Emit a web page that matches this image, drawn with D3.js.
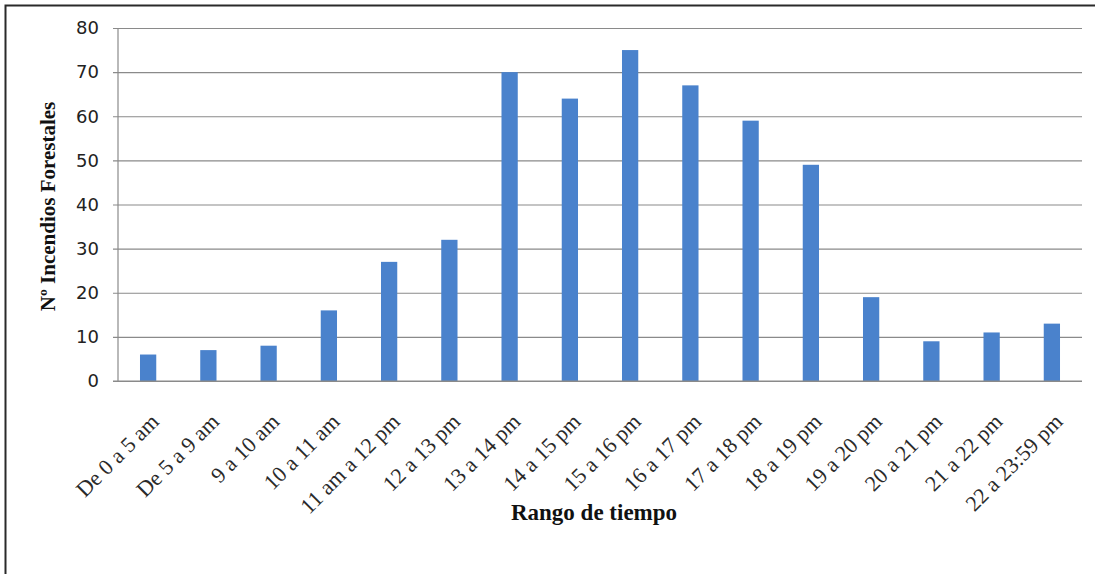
<!DOCTYPE html>
<html>
<head>
<meta charset="utf-8">
<script src="https://cdn.jsdelivr.net/npm/d3@7"></script>
<style>
  html, body { margin: 0; padding: 0; background: #fff; }
  svg { display: block; }
</style>
</head>
<body>
<script>
// Forest fires by time-of-day range
const categories = [
  "De 0 a 5 am", "De 5 a 9 am", "9 a 10 am", "10 a 11 am", "11 am a 12 pm",
  "12 a 13 pm", "13 a 14 pm", "14 a 15 pm", "15 a 16 pm", "16 a 17 pm",
  "17 a 18 pm", "18 a 19 pm", "19 a 20 pm", "20 a 21 pm", "21 a 22 pm",
  "22 a 23:59 pm"
];
const incendios = [6, 7, 8, 16, 27, 32, 70, 64, 75, 67, 59, 49, 19, 9, 11, 13];
const yTicks = [0, 10, 20, 30, 40, 50, 60, 70, 80];
const yTitle = "Nº Incendios Forestales";
const xTitle = "Rango de tiempo";

const W = 1095, H = 574;
const plot = { left: 118, right: 1082, top: 28, bottom: 381 };

const svg = d3.select("body").append("svg")
  .attr("width", W).attr("height", H);

// outer frame
svg.append("rect")
  .attr("x", 5.5).attr("y", 5.5)
  .attr("width", W).attr("height", H)
  .attr("fill", "#fff")
  .attr("stroke", "#2a2a2a").attr("stroke-width", 2);

const x = d3.scaleBand().domain(categories)
  .range([plot.left, plot.right]).paddingInner(0.73).paddingOuter(0.365);
const y = d3.scaleLinear().domain([0, 80]).range([plot.bottom, plot.top]);

// gridlines + y labels
const yAxis = d3.axisLeft(y).tickValues(yTicks).tickSize(-(plot.right - plot.left) - 5)
  .tickSizeOuter(0).tickPadding(14);
const gy = svg.append("g").attr("transform", `translate(${plot.left - 5},0)`).call(yAxis);
gy.select(".domain").remove();
gy.selectAll(".tick line").attr("stroke", "#8a8a8a").attr("stroke-width", 1.2)
  .attr("x1", 0).attr("x2", plot.right - plot.left + 5);
gy.selectAll(".tick text")
  .attr("x", -(plot.left - 5 - 99) ).attr("dx", 0)
  .attr("font-family", "'DejaVu Sans', Verdana, sans-serif")
  .attr("font-size", 18).attr("fill", "#222");

// vertical axis line
svg.append("line")
  .attr("x1", plot.left).attr("x2", plot.left)
  .attr("y1", plot.top).attr("y2", plot.bottom)
  .attr("stroke", "#8a8a8a").attr("stroke-width", 1.2);

// bars
svg.append("g").selectAll("rect").data(incendios).join("rect")
  .attr("x", (d, i) => x(categories[i]))
  .attr("width", x.bandwidth())
  .attr("y", d => y(d))
  .attr("height", d => y(0) - y(d))
  .attr("fill", "#4a82cc");

// baseline over bars
svg.append("line")
  .attr("x1", plot.left - 5).attr("x2", plot.right)
  .attr("y1", y(0)).attr("y2", y(0))
  .attr("stroke", "#8a8a8a").attr("stroke-width", 1.2);

// category labels, rotated
svg.append("g").selectAll("text").data(categories).join("text")
  .attr("transform", d => `translate(${x(d) + x.bandwidth() / 2 + 12},${plot.bottom + 42}) rotate(-45)`)
  .attr("text-anchor", "end")
  .attr("font-family", "'Liberation Serif', 'Times New Roman', serif")
  .attr("font-size", 22).attr("fill", "#2a2a2a")
  .text(d => d);

// axis titles
svg.append("text")
  .attr("transform", `translate(55,${(plot.top + plot.bottom) / 2 + 2}) rotate(-90)`)
  .attr("text-anchor", "middle")
  .attr("font-family", "'Liberation Serif', 'Times New Roman', serif")
  .attr("font-weight", "bold").attr("font-size", 21).attr("fill", "#111")
  .text(yTitle);

svg.append("text")
  .attr("x", 594).attr("y", 520)
  .attr("text-anchor", "middle")
  .attr("font-family", "'Liberation Serif', 'Times New Roman', serif")
  .attr("font-weight", "bold").attr("font-size", 23).attr("fill", "#111")
  .text(xTitle);
</script>
</body>
</html>
